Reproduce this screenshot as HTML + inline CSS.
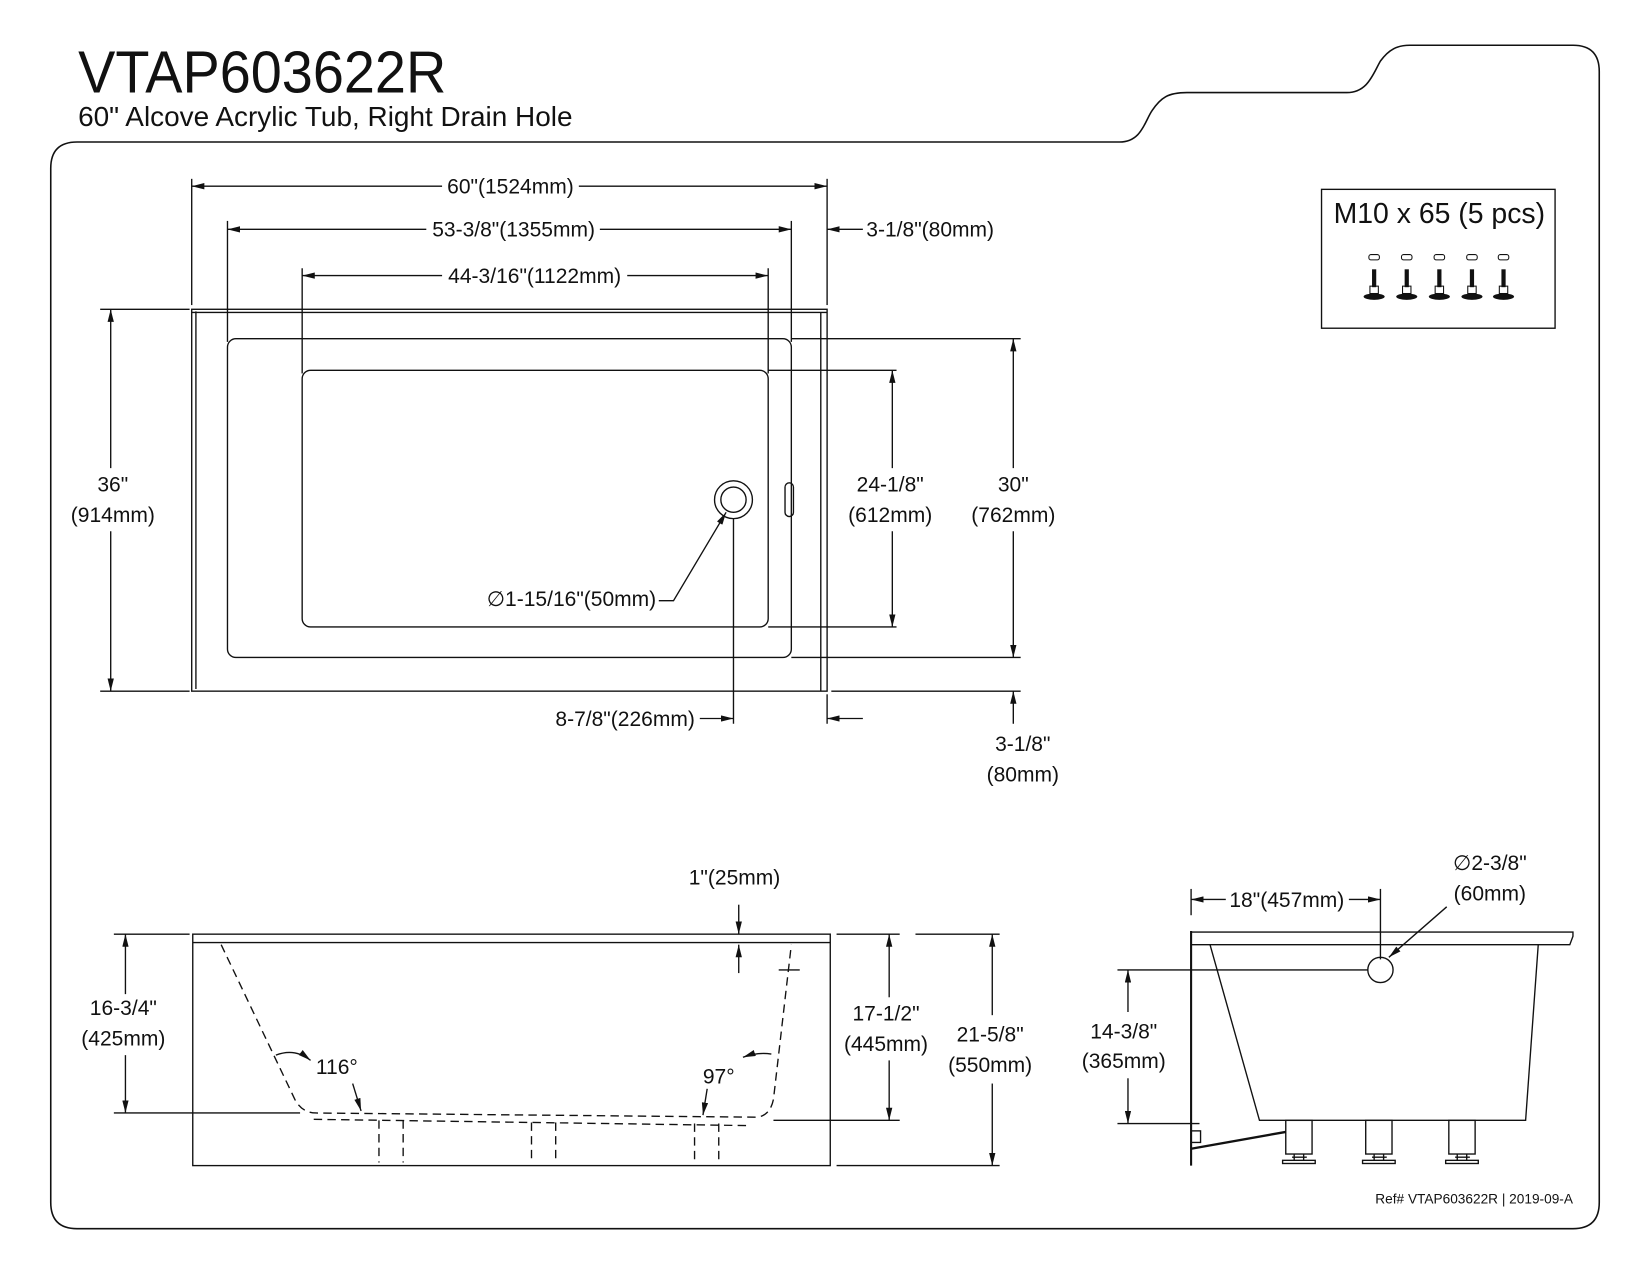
<!DOCTYPE html>
<html><head><meta charset="utf-8"><style>
html,body{margin:0;padding:0;background:#fff}
svg{display:block}
text{font-family:"Liberation Sans",sans-serif;fill:#111}
.d{font-size:20px}
</style></head><body>
<svg width="1650" height="1275" viewBox="0 0 1568 1212" xmlns="http://www.w3.org/2000/svg">
<defs>
<marker id="a" viewBox="0 0 12 6" refX="12" refY="3" markerWidth="12" markerHeight="6" orient="auto-start-reverse" markerUnits="userSpaceOnUse"><path d="M0,0 L12,3 L0,6z" fill="#111"/></marker>
</defs>
<g fill="none" stroke="#111" stroke-width="1.3">
<!-- border -->
<path d="M73,135 L1064,135 C1085,135 1088,115 1095,105 C1103,93 1110,88 1128,88 L1280,88 C1300,88 1305,70 1312,58 C1320,47 1328,43 1340,43 L1495,43 Q1520,43 1520,68 L1520,1143 Q1520,1168 1495,1168 L73,1168 Q48,1168 48,1143 L48,160 Q48,135 73,135Z" stroke-width="1.5"/>
<!-- top view -->
<rect x="182" y="294" width="604" height="363"/>
<line x1="186" y1="296" x2="186" y2="655"/>
<line x1="182" y1="297" x2="786" y2="297"/>
<line x1="780" y1="297" x2="780" y2="657"/>
<rect x="216" y="322" width="536" height="303" rx="8"/>
<rect x="287" y="352" width="443" height="244" rx="8"/>
<circle cx="697" cy="475" r="18"/><circle cx="697" cy="475" r="12"/>
<rect x="746" y="459" width="8" height="32" rx="4"/>
<line x1="182" y1="170" x2="182" y2="290"/><line x1="786" y1="170" x2="786" y2="290"/>
<line x1="182" y1="177" x2="420" y2="177" marker-start="url(#a)"/><line x1="550" y1="177" x2="786" y2="177" marker-end="url(#a)"/>
<line x1="216" y1="210" x2="216" y2="325"/><line x1="752" y1="210" x2="752" y2="325"/>
<line x1="216" y1="218" x2="405" y2="218" marker-start="url(#a)"/><line x1="570" y1="218" x2="752" y2="218" marker-end="url(#a)"/>
<line x1="820" y1="218" x2="786" y2="218" marker-end="url(#a)"/>
<line x1="287" y1="255" x2="287" y2="355"/><line x1="730" y1="255" x2="730" y2="355"/>
<line x1="287" y1="262" x2="420" y2="262" marker-start="url(#a)"/><line x1="596" y1="262" x2="730" y2="262" marker-end="url(#a)"/>
<line x1="95" y1="294" x2="180" y2="294"/><line x1="95" y1="657" x2="180" y2="657"/>
<line x1="105" y1="294" x2="105" y2="445" marker-start="url(#a)"/><line x1="105" y1="505" x2="105" y2="657" marker-end="url(#a)"/>
<line x1="730" y1="352" x2="852" y2="352"/><line x1="730" y1="596" x2="852" y2="596"/>
<line x1="848" y1="352" x2="848" y2="445" marker-start="url(#a)"/><line x1="848" y1="505" x2="848" y2="596" marker-end="url(#a)"/>
<line x1="752" y1="322" x2="970" y2="322"/><line x1="752" y1="625" x2="970" y2="625"/>
<line x1="963" y1="322" x2="963" y2="445" marker-start="url(#a)"/><line x1="963" y1="505" x2="963" y2="625" marker-end="url(#a)"/>
<line x1="790" y1="657" x2="970" y2="657"/>
<line x1="963" y1="688" x2="963" y2="657" marker-end="url(#a)"/>
<line x1="697" y1="493" x2="697" y2="688"/><line x1="786" y1="660" x2="786" y2="688"/>
<line x1="665" y1="683" x2="697" y2="683" marker-end="url(#a)"/>
<line x1="820" y1="683" x2="786" y2="683" marker-end="url(#a)"/>
<polyline points="626,571 640,571 690,487" marker-end="url(#a)"/>
<rect x="1256" y="180" width="222" height="132"/>
<!-- front view -->
<rect x="183" y="888" width="606" height="220"/>
<line x1="183" y1="896" x2="789" y2="896"/>
<g stroke-dasharray="8,5">
<path d="M210,898 L280,1045 Q287,1058 300,1058 L720,1062 Q732,1060 735,1045 L752,898"/>
<path d="M298,1064 L712,1070"/>
<path d="M360,1065 L360,1105 M383,1065 L383,1105 M505,1067 L505,1105 M528,1067 L528,1105 M660,1068 L660,1105 M683,1068 L683,1105"/>
</g>
<line x1="740" y1="922" x2="760" y2="922"/>
<line x1="108" y1="888" x2="180" y2="888"/><line x1="108" y1="1058" x2="285" y2="1058"/>
<line x1="119" y1="888" x2="119" y2="945" marker-start="url(#a)"/><line x1="119" y1="1003" x2="119" y2="1058" marker-end="url(#a)"/>
<line x1="702" y1="860" x2="702" y2="888" marker-end="url(#a)"/>
<line x1="702" y1="925" x2="702" y2="898" marker-end="url(#a)"/>
<line x1="795" y1="888" x2="855" y2="888"/><line x1="735" y1="1065" x2="855" y2="1065"/>
<line x1="845" y1="888" x2="845" y2="948" marker-start="url(#a)"/><line x1="845" y1="1008" x2="845" y2="1065" marker-end="url(#a)"/>
<line x1="870" y1="888" x2="950" y2="888"/><line x1="795" y1="1108" x2="950" y2="1108"/>
<line x1="943" y1="888" x2="943" y2="965" marker-start="url(#a)"/><line x1="943" y1="1030" x2="943" y2="1108" marker-end="url(#a)"/>
<path d="M262,1003 Q280,996 295,1008" marker-end="url(#a)"/>
<path d="M706,1005 Q720,1000 733,1002" marker-start="url(#a)"/>
<line x1="335" y1="1030" x2="343" y2="1056" marker-end="url(#a)"/>
<line x1="672" y1="1035" x2="668" y2="1060" marker-end="url(#a)"/>
<!-- side view -->
<line x1="1132" y1="885" x2="1132" y2="1108" stroke-width="2"/>
<path d="M1132,886 L1495,886 L1495,890 L1492,898 L1132,898"/>
<path d="M1150,898 L1197,1065 L1450,1065 L1462,898"/>
<circle cx="1312" cy="922" r="12"/>
<path d="M1132,1092 L1222,1076" stroke-width="2.2"/>
<rect x="1132" y="1075" width="9" height="11"/>
<g>
<rect x="1222" y="1065" width="25" height="32"/><rect x="1219" y="1103" width="31" height="3"/><path d="M1230,1097 v6 M1239,1097 v6 M1228,1100 h14"/>
<rect x="1298" y="1065" width="25" height="32"/><rect x="1295" y="1103" width="31" height="3"/><path d="M1306,1097 v6 M1315,1097 v6 M1304,1100 h14"/>
<rect x="1377" y="1065" width="25" height="32"/><rect x="1374" y="1103" width="31" height="3"/><path d="M1385,1097 v6 M1394,1097 v6 M1383,1100 h14"/>
</g>
<line x1="1132" y1="845" x2="1132" y2="870"/><line x1="1312" y1="845" x2="1312" y2="912"/>
<line x1="1132" y1="855" x2="1165" y2="855" marker-start="url(#a)"/><line x1="1282" y1="855" x2="1312" y2="855" marker-end="url(#a)"/>
<line x1="1375" y1="862" x2="1320" y2="910" marker-end="url(#a)"/>
<line x1="1062" y1="922" x2="1300" y2="922"/><line x1="1062" y1="1068" x2="1140" y2="1068"/>
<line x1="1072" y1="922" x2="1072" y2="962" marker-start="url(#a)"/><line x1="1072" y1="1025" x2="1072" y2="1068" marker-end="url(#a)"/>
</g>
<g fill="#111">
<g transform="translate(1306,0)"><rect x="-5" y="242" width="10" height="5" rx="2" fill="none" stroke="#111"/><rect x="-2" y="256" width="4" height="17"/><rect x="-4" y="272" width="8" height="7" fill="none" stroke="#111"/><ellipse cx="0" cy="282" rx="10" ry="3"/></g>
<g transform="translate(1337,0)"><rect x="-5" y="242" width="10" height="5" rx="2" fill="none" stroke="#111"/><rect x="-2" y="256" width="4" height="17"/><rect x="-4" y="272" width="8" height="7" fill="none" stroke="#111"/><ellipse cx="0" cy="282" rx="10" ry="3"/></g>
<g transform="translate(1368,0)"><rect x="-5" y="242" width="10" height="5" rx="2" fill="none" stroke="#111"/><rect x="-2" y="256" width="4" height="17"/><rect x="-4" y="272" width="8" height="7" fill="none" stroke="#111"/><ellipse cx="0" cy="282" rx="10" ry="3"/></g>
<g transform="translate(1399,0)"><rect x="-5" y="242" width="10" height="5" rx="2" fill="none" stroke="#111"/><rect x="-2" y="256" width="4" height="17"/><rect x="-4" y="272" width="8" height="7" fill="none" stroke="#111"/><ellipse cx="0" cy="282" rx="10" ry="3"/></g>
<g transform="translate(1429,0)"><rect x="-5" y="242" width="10" height="5" rx="2" fill="none" stroke="#111"/><rect x="-2" y="256" width="4" height="17"/><rect x="-4" y="272" width="8" height="7" fill="none" stroke="#111"/><ellipse cx="0" cy="282" rx="10" ry="3"/></g>
</g>
<text x="74" y="88" font-size="56" textLength="350" lengthAdjust="spacingAndGlyphs">VTAP603622R</text>
<text x="74" y="120" font-size="26" textLength="470" lengthAdjust="spacingAndGlyphs">60" Alcove Acrylic Tub, Right Drain Hole</text>
<text x="1368" y="212" font-size="27" text-anchor="middle">M10 x 65 (5 pcs)</text>
<g class="d" text-anchor="middle">
<text x="485" y="184">60"(1524mm)</text>
<text x="488" y="225">53-3/8"(1355mm)</text>
<text x="508" y="269">44-3/16"(1122mm)</text>
<text x="884" y="225">3-1/8"(80mm)</text>
<text x="107" y="467">36"</text><text x="107" y="496">(914mm)</text>
<text x="846" y="467">24-1/8"</text><text x="846" y="496">(612mm)</text>
<text x="963" y="467">30"</text><text x="963" y="496">(762mm)</text>
<text x="972" y="714">3-1/8"</text><text x="972" y="743">(80mm)</text>
<text x="543" y="576">∅1-15/16"(50mm)</text>
<text x="594" y="690">8-7/8"(226mm)</text>
<text x="698" y="841">1"(25mm)</text>
<text x="117" y="965">16-3/4"</text><text x="117" y="994">(425mm)</text>
<text x="842" y="970">17-1/2"</text><text x="842" y="999">(445mm)</text>
<text x="941" y="990">21-5/8"</text><text x="941" y="1019">(550mm)</text>
<text x="320" y="1021">116°</text>
<text x="683" y="1030">97°</text>
<text x="1223" y="862">18"(457mm)</text>
<text x="1416" y="827">∅2-3/8"</text><text x="1416" y="856">(60mm)</text>
<text x="1068" y="987">14-3/8"</text><text x="1068" y="1015">(365mm)</text>
</g>
<text x="1495" y="1144" font-size="13" text-anchor="end">Ref# VTAP603622R | 2019-09-A</text>
</svg>
</body></html>
